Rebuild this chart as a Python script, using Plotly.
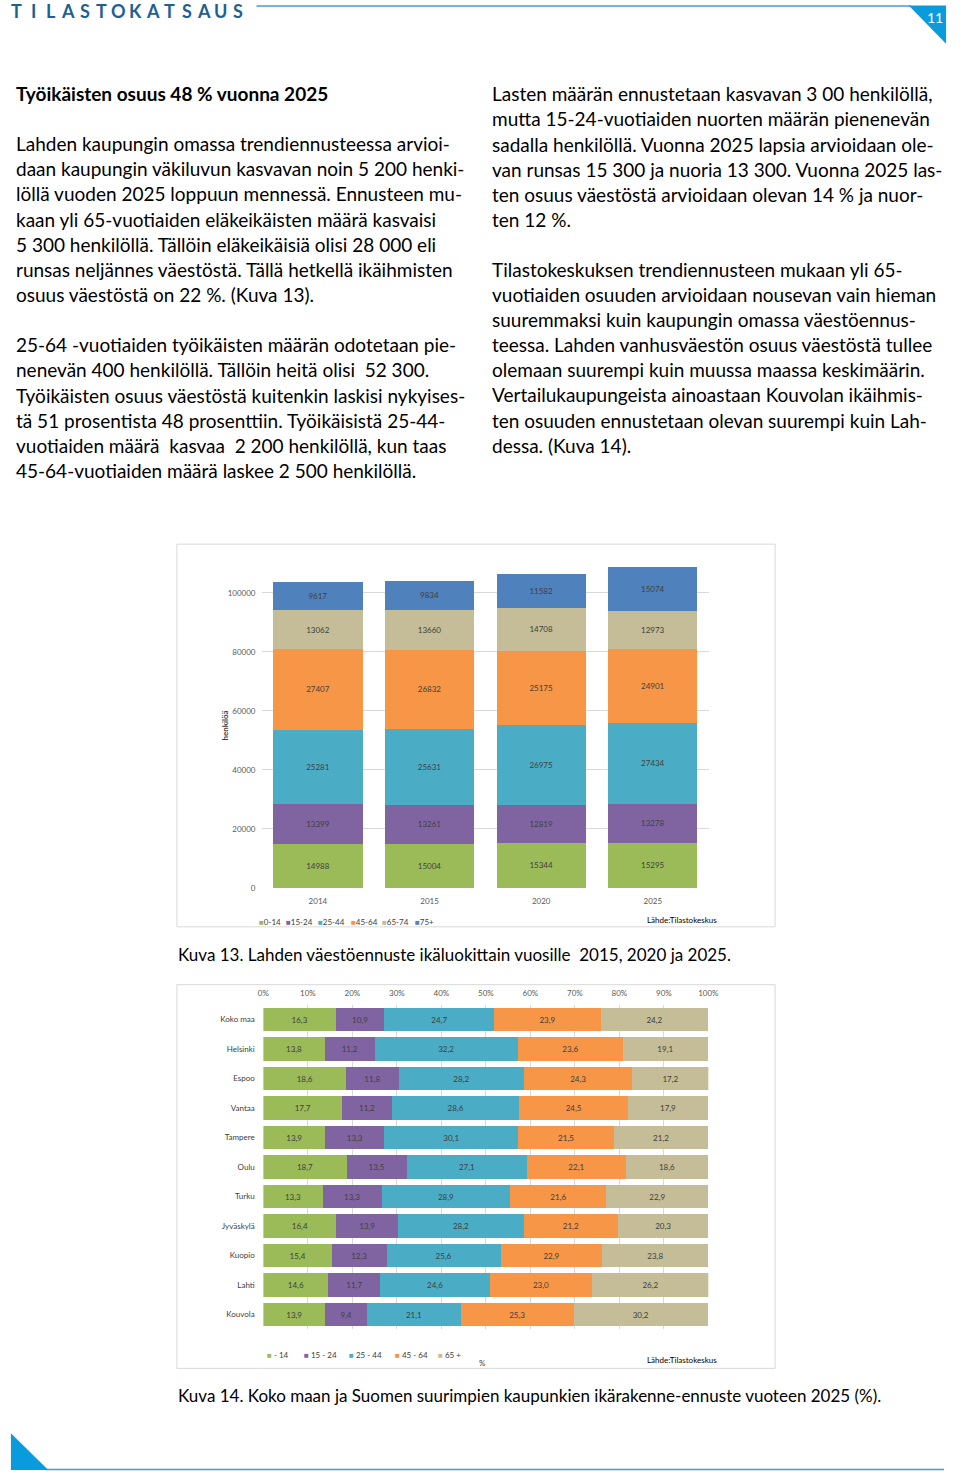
import plotly.graph_objects as go

W, H = 960, 1479

# ---------------- data ----------------
years = ["2014", "2015", "2020", "2025"]
age_groups1 = ["0-14", "15-24", "25-44", "45-64", "65-74", "75+"]
v_0_14 = [14988, 15004, 15344, 15295]
v_15_24 = [13399, 13261, 12819, 13278]
v_25_44 = [25281, 25631, 26975, 27434]
v_45_64 = [27407, 26832, 25175, 24901]
v_65_74 = [13062, 13660, 14708, 12973]
v_75 = [9617, 9834, 11582, 15074]
y1_ticks = [0, 20000, 40000, 60000, 80000, 100000]

areas = ["Koko maa", "Helsinki", "Espoo", "Vantaa", "Tampere", "Oulu",
         "Turku", "Jyväskylä", "Kuopio", "Lahti", "Kouvola"]
age_groups2 = ["- 14", "15 - 24", "25 - 44", "45 - 64", "65 +"]
p_0_14 = [16.3, 13.8, 18.6, 17.7, 13.9, 18.7, 13.3, 16.4, 15.4, 14.6, 13.9]
p_15_24 = [10.9, 11.2, 11.8, 11.2, 13.3, 13.5, 13.3, 13.9, 12.3, 11.7, 9.4]
p_25_44 = [24.7, 32.2, 28.2, 28.6, 30.1, 27.1, 28.9, 28.2, 25.6, 24.6, 21.1]
p_45_64 = [23.9, 23.6, 24.3, 24.5, 21.5, 22.1, 21.6, 21.2, 22.9, 23.0, 25.3]
p_65 = [24.2, 19.1, 17.2, 17.9, 21.2, 18.6, 22.9, 20.3, 23.8, 26.2, 30.2]
x2_ticks = [0, 10, 20, 30, 40, 50, 60, 70, 80, 90, 100]

colors = ["#9BBB59", "#8064A2", "#4BACC6", "#F79646", "#C4BD97", "#4F81BD"]

FONT = "Lato"
LBL = "#404040"
TICK = "#595959"


def px(x):
    return x / W


def py(y):
    return 1 - y / H


fig = go.Figure()

# ---------------- chart 1 ----------------
series1 = [v_0_14, v_15_24, v_25_44, v_45_64, v_65_74, v_75]
for name, vals, col in zip(age_groups1, series1, colors):
    fig.add_trace(go.Bar(
        x=years, y=vals, name=name, marker=dict(color=col, line=dict(width=0)),
        text=[str(v) for v in vals], textposition="inside",
        insidetextanchor="middle", textangle=0,
        textfont=dict(family=FONT, size=8, color=LBL),
        xaxis="x", yaxis="y", showlegend=False, hoverinfo="skip"))

# ---------------- chart 2 ----------------
series2 = [p_0_14, p_15_24, p_25_44, p_45_64, p_65]
for name, vals, col in zip(age_groups2, series2, colors[:5]):
    fig.add_trace(go.Bar(
        y=areas, x=vals, name=name, orientation="h",
        marker=dict(color=col, line=dict(width=0)),
        text=[f"{v:.1f}".replace(".", ",") for v in vals], textposition="inside",
        insidetextanchor="middle", textangle=0,
        textfont=dict(family=FONT, size=8, color=LBL),
        xaxis="x2", yaxis="y2", showlegend=False, hoverinfo="skip"))

fig.update_layout(
    width=W, height=H, autosize=False,
    margin=dict(l=0, r=0, t=0, b=0, pad=0),
    paper_bgcolor="white", plot_bgcolor="rgba(0,0,0,0)",
    barmode="stack", bargap=0.2, dragmode=False,
    font=dict(family=FONT, color="#000000"),
    showlegend=False,
    xaxis=dict(domain=[px(260.7), px(715.3)], anchor="y",
               showgrid=False, showline=False, zeroline=False,
               tickfont=dict(family=FONT, size=8, color=TICK),
               ticks="outside", ticklen=5, tickcolor="rgba(0,0,0,0)"),
    yaxis=dict(domain=[py(891), py(565.4)], anchor="x", range=[0, 110000],
               tickvals=y1_ticks, ticktext=[str(t) for t in y1_ticks],
               showgrid=True, gridcolor="#D9D9D9", gridwidth=1,
               zeroline=False, showline=False,
               ticks="outside", ticklen=4, tickcolor="rgba(0,0,0,0)",
               tickfont=dict(family=FONT, size=8, color=TICK)),
    xaxis2=dict(domain=[px(262), px(715)], anchor="y2", range=[0, 100],
                side="top", tickvals=x2_ticks,
                ticktext=[f"{t}%" for t in x2_ticks],
                showgrid=True, gridcolor="#D9D9D9", gridwidth=1,
                zeroline=False, showline=False,
                ticks="outside", ticklen=5, tickcolor="rgba(0,0,0,0)",
                tickfont=dict(family=FONT, size=8, color=TICK)),
    yaxis2=dict(domain=[py(1333.8), py(1008.2)], anchor="x2",
                categoryorder="array", categoryarray=areas, autorange="reversed",
                showgrid=False, zeroline=False, showline=False,
                ticks="outside", ticklen=6, tickcolor="rgba(0,0,0,0)",
                tickfont=dict(family=FONT, size=8, color=LBL)),
)

shapes = []
# chart frames
shapes.append(dict(type="rect", xref="paper", yref="paper",
                   x0=px(174), x1=px(783), y0=py(930), y1=py(546),
                   line=dict(color="#D9D9D9", width=1), fillcolor="rgba(0,0,0,0)", layer="below"))
shapes.append(dict(type="rect", xref="paper", yref="paper",
                   x0=px(174), x1=px(783), y0=py(1373), y1=py(988),
                   line=dict(color="#D9D9D9", width=1), fillcolor="rgba(0,0,0,0)", layer="below"))
# header line + triangle
shapes.append(dict(type="line", xref="paper", yref="paper",
                   x0=px(255), x1=px(921), y0=py(6), y1=py(6),
                   line=dict(color="#3D9FD8", width=1.5)))
shapes.append(dict(type="path", xref="paper", yref="paper",
                   path=f"M {px(919)},{py(5.5)} L {px(957)},{py(5.5)} L {px(957)},{py(44)} Z",
                   fillcolor="#0A9BDD", line=dict(width=0)))
# footer line + triangle
shapes.append(dict(type="line", xref="paper", yref="paper",
                   x0=px(40), x1=px(955), y0=py(1474.5), y1=py(1474.5),
                   line=dict(color="#3D9FD8", width=1.5)))
shapes.append(dict(type="path", xref="paper", yref="paper",
                   path=f"M {px(5)},{py(1438)} L {px(5)},{py(1475)} L {px(43)},{py(1475)} Z",
                   fillcolor="#0A9BDD", line=dict(width=0)))
fig.update_layout(shapes=shapes)


def ann(x, y, text, size=19, color="#000000", anchor="left", bold=False, angle=0, yanchor="middle"):
    if bold:
        text = f"<b>{text}</b>"
    fig.add_annotation(x=px(x), y=py(y), xref="paper", yref="paper", text=text,
                       showarrow=False, xanchor=anchor, yanchor=yanchor, textangle=angle,
                       borderpad=0, borderwidth=0,
                       font=dict(family=FONT, size=size, color=color))


# header letters
for i, ch in enumerate("TILASTOKATSAUS"):
    ann(11 + i * 17.3, 11, ch, size=18, color="#1C6194", anchor="center", bold=True)
ann(946, 18, "11", size=14, color="white", anchor="center")

# body text
LH = 25.25
ann(10, 94, "Työikäisten osuus 48 % vuonna 2025", bold=True)
left_p1 = [
    "Lahden kaupungin omassa trendiennusteessa arvioi-",
    "daan kaupungin väkiluvun kasvavan noin 5 200 henki-",
    "löllä vuoden 2025 loppuun mennessä. Ennusteen mu-",
    "kaan yli 65-vuotiaiden eläkeikäisten määrä kasvaisi",
    "5 300 henkilöllä. Tällöin eläkeikäisiä olisi 28 000 eli",
    "runsas neljännes väestöstä. Tällä hetkellä ikäihmisten",
    "osuus väestöstä on 22 %. (Kuva 13).",
]
left_p2 = [
    "25-64 -vuotiaiden työikäisten määrän odotetaan pie-",
    "nenevän 400 henkilöllä. Tällöin heitä olisi  52 300.",
    "Työikäisten osuus väestöstä kuitenkin laskisi nykyises-",
    "tä 51 prosentista 48 prosenttiin. Työikäisistä 25-44-",
    "vuotiaiden määrä  kasvaa  2 200 henkilöllä, kun taas",
    "45-64-vuotiaiden määrä laskee 2 500 henkilöllä.",
]
right_p1 = [
    "Lasten määrän ennustetaan kasvavan 3 00 henkilöllä,",
    "mutta 15-24-vuotiaiden nuorten määrän pienenevän",
    "sadalla henkilöllä. Vuonna 2025 lapsia arvioidaan ole-",
    "van runsas 15 300 ja nuoria 13 300. Vuonna 2025 las-",
    "ten osuus väestöstä arvioidaan olevan 14 % ja nuor-",
    "ten 12 %.",
]
right_p2 = [
    "Tilastokeskuksen trendiennusteen mukaan yli 65-",
    "vuotiaiden osuuden arvioidaan nousevan vain hieman",
    "suuremmaksi kuin kaupungin omassa väestöennus-",
    "teessa. Lahden vanhusväestön osuus väestöstä tullee",
    "olemaan suurempi kuin muussa maassa keskimäärin.",
    "Vertailukaupungeista ainoastaan Kouvolan ikäihmis-",
    "ten osuuden ennustetaan olevan suurempi kuin Lah-",
    "dessa. (Kuva 14).",
]
for x0, y0, lines in [(10, 144, left_p1), (10, 346, left_p2),
                      (495, 94, right_p1), (495, 270, right_p2)]:
    for i, line in enumerate(lines):
        ann(x0, y0 + i * LH, line.replace("  ", "\u00a0 "))

# chart 1 extras
ann(222, 728, "henkilöä", size=8, color=LBL, anchor="center", bold=True, angle=-90)
leg1_x = [258, 285, 318, 351, 383, 416]
for x, name, col in zip(leg1_x, age_groups1, colors):
    ann(x, 925, f"<span style='color:{col}'>■</span>{name}", size=8, color=LBL)
ann(653, 923, "Lähde:Tilastokeskus", size=8, color="#000000")
ann(175, 958, "Kuva 13. Lahden väestöennuste ikäluokittain vuosille \u00a02015, 2020 ja 2025.", size=17)

# chart 2 extras
leg2_x = [266, 303, 349, 396, 440]
for x, name, col in zip(leg2_x, age_groups2, colors[:5]):
    ann(x, 1360, f"<span style='color:{col}'>■</span> {name}", size=8, color=LBL)
ann(485, 1368, "%", size=8, color=LBL, anchor="center")
ann(653, 1365, "Lähde:Tilastokeskus", size=8, color="#000000")
ann(175, 1400, "Kuva 14. Koko maan ja Suomen suurimpien kaupunkien ikärakenne-ennuste vuoteen 2025 (%).", size=17)

post = (
    "document.documentElement.style.margin='0';"
    "document.documentElement.style.overflow='hidden';"
    "document.body.style.margin='0';"
    "document.body.style.padding='0';"
    "document.body.style.overflow='hidden';"
    "var gd=document.getElementById('{plot_id}');"
    "gd.style.overflow='hidden';"
    "var sc=gd.querySelector('.svg-container');if(sc){sc.style.overflow='hidden';}"
)
fig.write_html("out.html",
               config={"staticPlot": True, "displayModeBar": False, "responsive": False},
               post_script=post)
